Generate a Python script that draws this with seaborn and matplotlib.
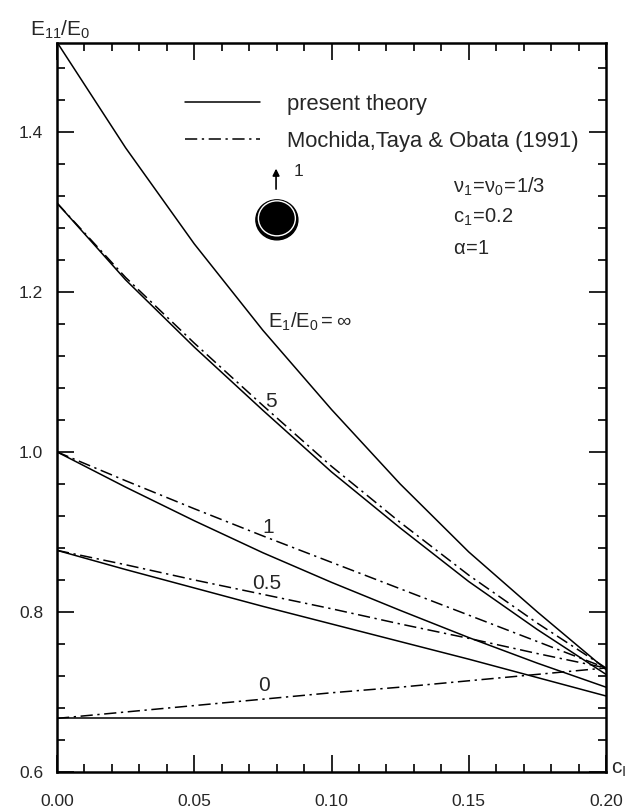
import numpy as np
import pandas as pd
import seaborn as sns
import matplotlib
matplotlib.use("Agg")
import matplotlib.pyplot as plt
from matplotlib.lines import Line2D
from matplotlib.patches import Ellipse

# interphase volume fraction
c_I = [0.0, 0.025, 0.05, 0.075, 0.1, 0.125, 0.15, 0.175, 0.2]

# present theory, one curve per stiffness ratio E1/E0
present_inf = [1.512, 1.380, 1.260, 1.152, 1.053, 0.960, 0.875, 0.800, 0.728]
present_5 = [1.311, 1.215, 1.131, 1.052, 0.975, 0.905, 0.838, 0.778, 0.722]
present_1 = [1.000, 0.956, 0.914, 0.874, 0.837, 0.802, 0.768, 0.736, 0.706]
present_05 = [0.877, 0.853, 0.830, 0.807, 0.785, 0.763, 0.741, 0.718, 0.695]
present_0 = [0.667, 0.667, 0.667, 0.667, 0.667, 0.667, 0.667, 0.667, 0.667]

# Mochida, Taya & Obata (1991)
mto_5 = [1.311, 1.218, 1.136, 1.058, 0.982, 0.912, 0.846, 0.786, 0.730]
mto_1 = [1.000, 0.964, 0.929, 0.895, 0.862, 0.829, 0.796, 0.763, 0.730]
mto_05 = [0.877, 0.859, 0.840, 0.822, 0.804, 0.785, 0.767, 0.748, 0.730]
mto_0 = [0.667, 0.675, 0.683, 0.691, 0.699, 0.706, 0.714, 0.722, 0.730]

legend_labels = ["present theory", "Mochida,Taya & Obata (1991)"]
curve_labels = ["5", "1", "0.5", "0"]

series = [
    ("present", "inf", present_inf),
    ("present", "5", present_5),
    ("present", "1", present_1),
    ("present", "0.5", present_05),
    ("present", "0", present_0),
    ("mto", "5", mto_5),
    ("mto", "1", mto_1),
    ("mto", "0.5", mto_05),
    ("mto", "0", mto_0),
]
rows = []
for model, ratio, vals in series:
    for c, v in zip(c_I, vals):
        rows.append({"model": model, "ratio": ratio, "c": c, "E": v})
df = pd.DataFrame(rows)

sns.set_style("ticks")
plt.rcParams["font.family"] = ["Liberation Sans", "DejaVu Sans"]
plt.rcParams["mathtext.fontset"] = "custom"
plt.rcParams["mathtext.rm"] = "Liberation Sans"
plt.rcParams["mathtext.it"] = "Liberation Sans"
plt.rcParams["mathtext.sf"] = "Liberation Sans"

fig = plt.figure(figsize=(6.25, 8.08), dpi=100)
ax = fig.add_axes([57 / 625, 36 / 808, 549 / 625, 729 / 808])

dashdot = (0, (8, 3, 1.5, 3))
sns.lineplot(data=df, x="c", y="E", style="model", units="ratio",
             estimator=None, color="black", linewidth=1.1,
             dashes={"present": "", "mto": dashdot[1]},
             legend=False, ax=ax, sort=False)

ax.set_xlim(0.0, 0.2)
ax.set_ylim(0.6, 1.511)
ax.set_xlabel("")
ax.set_ylabel("")

ax.set_xticks(np.arange(0, 0.2001, 0.05))
ax.set_xticks(np.arange(0, 0.2001, 0.01), minor=True)
ax.set_yticks([0.6, 0.8, 1.0, 1.2, 1.4])
ax.set_yticks(np.arange(0.6, 1.52, 0.04), minor=True)
ax.set_xticklabels(["0.00", "0.05", "0.10", "0.15", "0.20"])
ax.set_yticklabels(["0.6", "0.8", "1.0", "1.2", "1.4"])
ax.tick_params(which="both", direction="in", top=True, right=True,
               labelsize=12.5, width=1.2, color="black")
ax.tick_params(axis="y", which="major", length=12, pad=10)
ax.tick_params(axis="y", which="minor", length=6)
ax.tick_params(axis="x", which="major", length=12, pad=16)
ax.tick_params(axis="x", which="minor", length=6)
for sp in ax.spines.values():
    sp.set_linewidth(1.8)
    sp.set_color("black")

# axis titles
fig.text(30 / 625, 1 - 30 / 808, r"$\mathregular{E_{11}/E_0}$",
         fontsize=15, ha="left", va="center")
fig.text(611 / 625, 1 - 770 / 808, r"$\mathregular{c_I}$",
         fontsize=15, ha="left", va="center")

# legend
handles = [Line2D([], [], color="black", lw=1.1),
           Line2D([], [], color="black", lw=1.1, linestyle=dashdot)]
ax.legend(handles, legend_labels, loc="upper left",
          bbox_to_anchor=(0.2332, 0.9305), frameon=False, fontsize=15.8,
          handlelength=3.42, handletextpad=1.23, labelspacing=0.75,
          borderpad=0, borderaxespad=0)

# curve labels
ax.text(0.0769, 1.1625, r"$\mathregular{E_1/E_0=\infty}$", fontsize=14.5,
        ha="left", va="center")
label_pos = [(0.078, 1.0625), (0.0769, 0.906), (0.0765, 0.835), (0.0754, 0.7075)]
for lab, (x, y) in zip(curve_labels, label_pos):
    ax.text(x, y, lab, fontsize=15, ha="center", va="center")

# material parameters
ax.text(0.1443, 1.331, r"$\mathregular{\nu_1\!=\!\nu_0\!=\!1/3}$", fontsize=14.5,
        ha="left", va="center")
ax.text(0.1443, 1.2925, r"$\mathregular{c_1\!=\!0.2}$", fontsize=14.5,
        ha="left", va="center")
ax.text(0.1443, 1.254, r"$\mathregular{\alpha\!=\!1}$", fontsize=14.5,
        ha="left", va="center")

# spherical inclusion with loading direction 1
xc, yc = 0.0801, 1.29
ax.add_patch(Ellipse((xc, yc), 42 / 2745, 40 / 800, facecolor="black",
                     edgecolor="black", lw=1.0))
ax.add_patch(Ellipse((xc, yc + 1.5 / 800), 37 / 2745, 35 / 800,
                     facecolor="none", edgecolor="white", lw=1.0))
ax.annotate("", xy=(0.0798, 1.3575), xytext=(0.0798, 1.325),
            arrowprops=dict(arrowstyle="-|>", color="black", lw=1.2,
                            mutation_scale=10))
ax.text(0.0863, 1.35, "1", fontsize=12.5, ha="left", va="center")

fig.savefig("out.png", dpi=100)
